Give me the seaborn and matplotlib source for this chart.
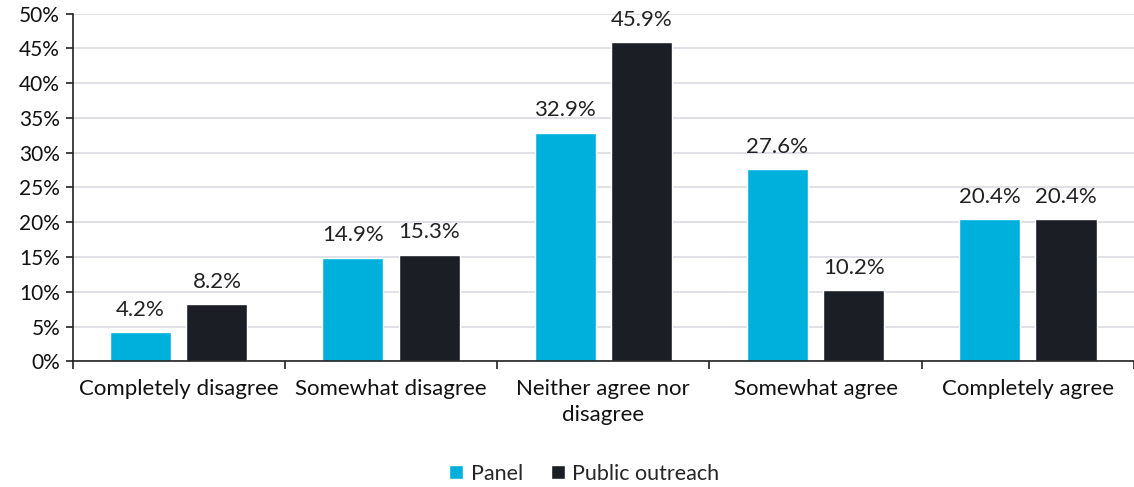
import matplotlib
matplotlib.use("Agg")
import matplotlib.pyplot as plt
import seaborn as sns
import pandas as pd
from matplotlib.ticker import FixedLocator, PercentFormatter

categories = ["Completely disagree", "Somewhat disagree", "Neither agree nor\ndisagree",
              "Somewhat agree", "Completely agree"]
panel = [4.2, 14.9, 32.9, 27.6, 20.4]
public_outreach = [8.2, 15.3, 45.9, 10.2, 20.4]
series = ["Panel", "Public outreach"]
colors = ["#00B0DC", "#1B1E24"]

df = pd.DataFrame({
    "category": categories * 2,
    "value": panel + public_outreach,
    "series": [series[0]] * 5 + [series[1]] * 5,
})

sns.set_style("white")
plt.rcParams["font.family"] = ["Lato", "DejaVu Sans"]

fig, ax = plt.subplots(figsize=(11.34, 4.87), dpi=100)
fig.subplots_adjust(left=0.064, right=1.0, top=0.972, bottom=0.258)

sns.barplot(data=df, x="category", y="value", hue="series", palette=colors,
            width=0.72, gap=0.2, ax=ax, saturation=1)

for cont in ax.containers:
    ax.bar_label(cont, labels=[f"{v:.1f}%" for v in cont.datavalues],
                 padding=9, fontsize=16, color="#222222")

ax.set_ylim(0, 50)
ax.set_xlim(-0.5, 4.5)
ax.yaxis.set_major_locator(FixedLocator(range(0, 51, 5)))
ax.yaxis.set_major_formatter(PercentFormatter(decimals=0))
ax.grid(axis="y", color="#D9DCE3", linewidth=1.2)
ax.set_axisbelow(True)

ax.set_xlabel("")
ax.set_ylabel("")
for s in ["top", "right"]:
    ax.spines[s].set_visible(False)
for s in ["left", "bottom"]:
    ax.spines[s].set_color("#222222")
    ax.spines[s].set_linewidth(1.2)

ax.tick_params(axis="y", which="major", length=5, width=1.2, color="#222222",
               labelsize=15, labelcolor="#111111", left=True, pad=4)
ax.tick_params(axis="x", which="major", length=0, labelsize=16, pad=13,
               labelcolor="#111111")
for lbl in ax.get_xticklabels():
    lbl.set_linespacing(1.35)
ax.xaxis.set_minor_locator(FixedLocator([-0.5, 0.5, 1.5, 2.5, 3.5, 4.5]))
ax.tick_params(axis="x", which="minor", length=6, width=1.2, color="#222222",
               bottom=True)

ax.legend(loc="center", bbox_to_anchor=(0.482, -0.323), ncol=2, frameon=False,
          fontsize=15.5, handlelength=0.65, handleheight=0.65, handletextpad=0.35,
          columnspacing=1.3)

fig.savefig("out.png", dpi=100)
